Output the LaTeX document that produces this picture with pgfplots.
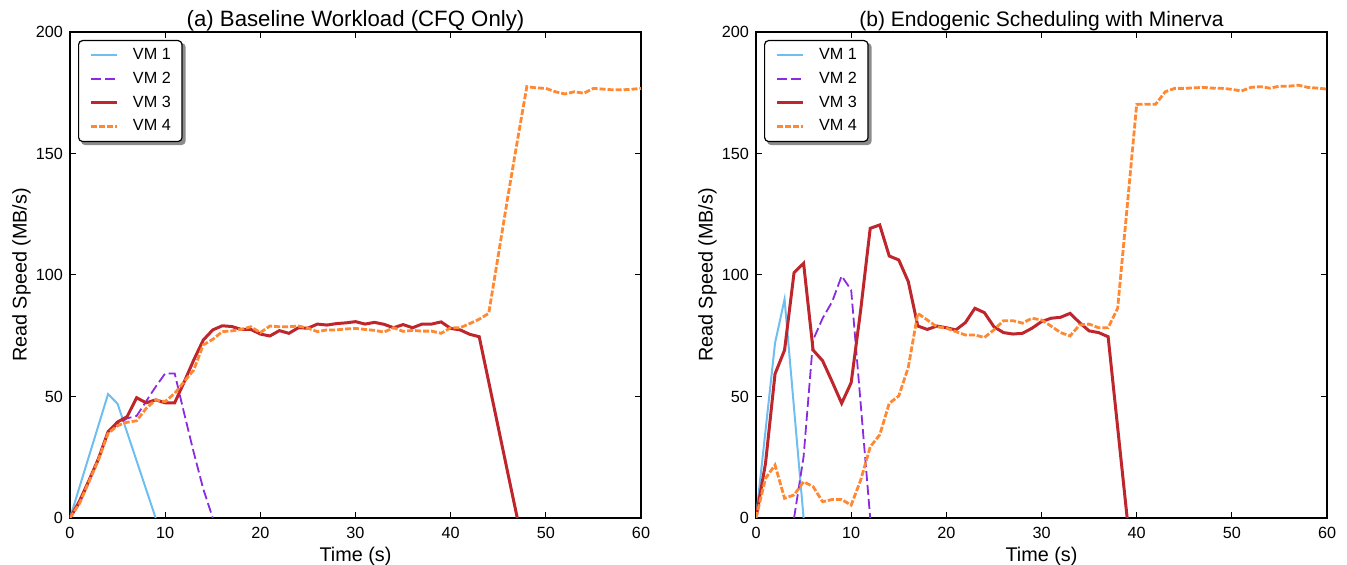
\documentclass[border=0pt]{standalone}
\usepackage{fontspec}
\setmainfont{Liberation Sans}
\usepackage{pgfplots}
\pgfplotsset{compat=1.18}
\pgfdeclarelayer{background}
\pgfsetlayers{background,main}

\definecolor{vmone}{RGB}{110,190,240}
\definecolor{vmtwo}{RGB}{138,43,226}
\definecolor{vmthree}{RGB}{190,38,44}
\definecolor{vmfour}{RGB}{255,136,51}

\pgfplotsset{
  vmA/.style={color=vmone, line width=1pt},
  vmB/.style={color=vmtwo, line width=0.9pt, dash pattern=on 5pt off 2pt},
  vmC/.style={color=vmthree, line width=1.5pt},
  vmD/.style={color=vmfour, line width=1.4pt, dash pattern=on 3pt off 1pt},
  myaxis/.style={
    scale only axis, width=285.5pt, height=243pt,
    anchor=south west,
    xmin=0, xmax=60, ymin=0, ymax=200,
    xtick={0,10,...,60}, ytick={0,50,...,200},
    tick align=inside, tick pos=both,
    major tick length=3pt,
    every tick/.append style={black, line width=0.5pt},
    axis line style={line width=0.9pt},
    /pgf/number format/assume math mode=true,
    tick label style={font=\fontsize{8.1}{9.7}\selectfont},
    xticklabel style={anchor=north, inner sep=0pt, yshift=-4.3pt},
    label style={font=\fontsize{9.9}{11.8}\selectfont},
    xlabel style={at={(axis description cs:0.5,-0.0897)}, anchor=base},
    ylabel style={at={(axis description cs:-0.076,0.5)}, anchor=base},
    every axis title shift=0pt,
    title style={at={(axis description cs:0.5,1.0109)}, anchor=base},
    xlabel={Time (s)}, ylabel={Read Speed (MB/s)},
    legend cell align=left,
    legend image code/.code={\draw[##1] (0pt,0pt) -- (12.8pt,0pt);},
    legend style={
      at={(axis description cs:0,1)}, anchor=north west,
      xshift=4pt, yshift=-4pt,
      draw=black, line width=0.6pt, rounded corners=2pt, fill=white,
      inner xsep=5.6pt, inner ysep=3.8pt,
      font=\fontsize{8.1}{9.7}\selectfont,
      row sep=4.8pt,
      nodes={inner sep=0pt},
      /tikz/every odd column/.append style={column sep=7.3pt},
    },
  }
}

\begin{document}
\begin{tikzpicture}
\path[use as bounding box] (-35pt,-23.5pt) rectangle (638.5pt,259pt);

\begin{axis}[myaxis, at={(0pt,0pt)}, title={(a) Baseline Workload (CFQ Only)}, title style={font=\fontsize{11.1}{13}\selectfont}, legend style={name=legA}]
\addplot[vmA] coordinates {(0,0)(4,51)(5,47)(9,0)};
\addlegendentry{VM 1}
\addplot[vmB] coordinates {(0,0)(1,6)(2,15)(3,24)(4,35)(5,38.5)(6,41)(7,42)(8,48)(9,54)(10,59.5)(11,59.5)(12,43)(13,27)(14,12)(15,0)};
\addlegendentry{VM 2}
\addplot[vmC] coordinates {(0,0)(1,7)(2,15.5)(3,24.5)(4,35.5)(5,39.5)(6,41.7)(7,49.5)(8,47.4)(9,48.6)(10,47.4)(11,47.4)(12,56)(13,65)(14,73.2)(15,77.4)(16,79.1)(17,78.8)(18,77.6)(19,77.6)(20,75.7)(21,74.9)(22,77.1)(23,76)(24,78.3)(25,78.1)(26,79.8)(27,79.4)(28,80)(29,80.3)(30,80.8)(31,79.8)(32,80.5)(33,79.7)(34,78.3)(35,79.6)(36,78.3)(37,79.8)(38,79.8)(39,80.7)(40,78)(41,77.4)(42,75.6)(43,74.6)(44,56)(45,37.3)(46,18.6)(47,0)};
\addlegendentry{VM 3}
\addplot[vmD] coordinates {(0,0)(1,6)(2,15)(3,24)(4,34.8)(5,38)(6,39.4)(7,40)(8,45.1)(9,48.6)(10,47.9)(11,51.3)(12,56.1)(13,60.9)(14,71.2)(15,73.5)(16,76.7)(17,77)(18,77.6)(19,78.7)(20,76.3)(21,79)(22,78.7)(23,78.7)(24,79)(25,78.1)(26,76.7)(27,77.4)(28,77.4)(29,77.8)(30,78)(31,77.6)(32,77.2)(33,76.5)(34,78.3)(35,76.8)(36,77.2)(37,76.9)(38,76.9)(39,76)(40,78.3)(41,78.3)(42,80)(43,81.8)(44,84.2)(45,108)(46,132)(47,155)(48,177.5)(49,177)(50,176.8)(51,175.4)(52,174.5)(53,175.4)(54,174.8)(55,176.8)(56,176.5)(57,176.2)(58,176.2)(59,176.4)(60,176.8)};
\addlegendentry{VM 4}
\end{axis}

\begin{axis}[myaxis, at={(343pt,0pt)}, title={(b) Endogenic Scheduling with Minerva}, title style={font=\fontsize{10.5}{12.5}\selectfont}, legend style={name=legB}]
\addplot[vmA] coordinates {(0,0)(1,36)(2,72)(3,90)(4,45)(5,0)};
\addlegendentry{VM 1}
\addplot[vmB] coordinates {(4,0)(5,25.2)(6,73.3)(7,82.2)(8,89)(9,99.6)(10,93.8)(11,47)(12,0)};
\addlegendentry{VM 2}
\addplot[vmC] coordinates {(0,0)(1,22.5)(2,59.3)(3,69.1)(4,101)(5,104.8)(6,69.1)(7,64.7)(8,56.1)(9,47.2)(10,55.7)(11,85.6)(12,119.2)(13,120.6)(14,107.8)(15,106.2)(16,97.3)(17,79)(18,77.6)(19,79)(20,78.3)(21,77.4)(22,80.4)(23,86.3)(24,84.5)(25,78.7)(26,76.3)(27,75.7)(28,76)(29,78.1)(30,80.8)(31,82.2)(32,82.6)(33,84.2)(34,80.4)(35,77)(36,76.3)(37,74.6)(38,37.3)(39,0)};
\addlegendentry{VM 3}
\addplot[vmD] coordinates {(0,0)(1,16.3)(2,21.8)(3,8.1)(4,9.5)(5,14.9)(6,12.9)(7,6.7)(8,7.6)(9,7.6)(10,5.3)(11,15.6)(12,29.3)(13,34.2)(14,47.2)(15,50.2)(16,62)(17,84.2)(18,81.5)(19,78.7)(20,78.1)(21,76.7)(22,75.3)(23,75.3)(24,74.3)(25,77.4)(26,81.2)(27,81.2)(28,80.2)(29,82.2)(30,81.5)(31,79)(32,76.3)(33,74.9)(34,79.4)(35,79.8)(36,78.3)(37,78.3)(38,86.3)(39,128)(40,170.2)(41,170.3)(42,170.3)(43,175.4)(44,176.8)(45,176.8)(46,177)(47,177.2)(48,176.9)(49,176.8)(50,176.4)(51,175.7)(52,177.2)(53,177.5)(54,176.9)(55,177.7)(56,177.7)(57,178.1)(58,177.2)(59,176.9)(60,176.5)};
\addlegendentry{VM 4}
\end{axis}

\begin{pgfonlayer}{background}
\foreach \L in {legA,legB}{
  \fill[black!45, rounded corners=2pt] ([xshift=1.5pt,yshift=-1.5pt]\L.south west) rectangle ([xshift=1.5pt,yshift=-1.5pt]\L.north east);
}
\end{pgfonlayer}
\end{tikzpicture}
\end{document}
